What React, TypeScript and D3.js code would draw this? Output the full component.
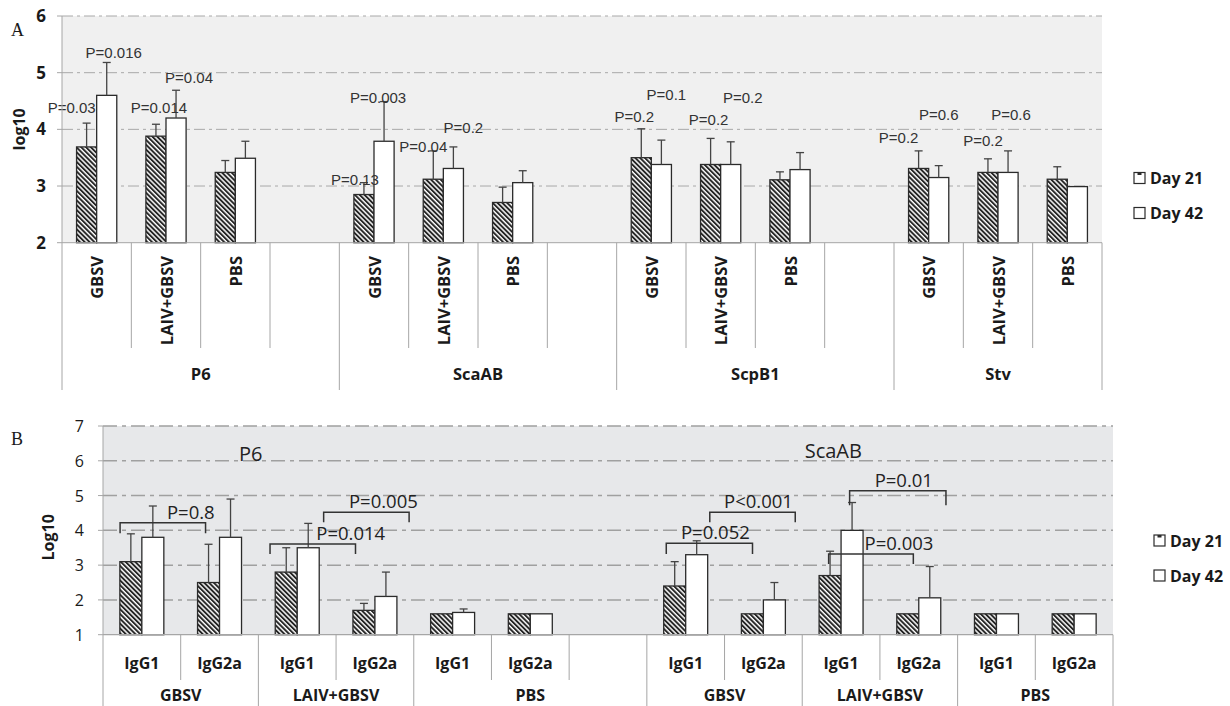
import { useEffect, useRef } from 'react';
import * as d3 from 'd3';

// ---- panel A: antibody titres per antigen / treatment
const groupsA = ['P6', 'ScaAB', 'ScpB1', 'Stv'];
const treatmentsA = ['GBSV', 'LAIV+GBSV', 'PBS'];
const day21A = [
  [3.69, 3.88, 3.24],
  [2.85, 3.12, 2.71],
  [3.5, 3.38, 3.11],
  [3.31, 3.24, 3.12]
];
const day21ErrA = [
  [0.42, 0.21, 0.21],
  [0.21, 0.5, 0.27],
  [0.51, 0.46, 0.14],
  [0.31, 0.24, 0.22]
];
const day42A = [
  [4.6, 4.2, 3.49],
  [3.79, 3.31, 3.06],
  [3.38, 3.38, 3.29],
  [3.15, 3.24, 2.99]
];
const day42ErrA = [
  [0.58, 0.49, 0.3],
  [0.7, 0.38, 0.21],
  [0.43, 0.4, 0.3],
  [0.21, 0.38, 0]
];
const ticksA = [2, 3, 4, 5, 6];
// p-value labels: group, treatment, series (0 = day 21, 1 = day 42), height in log10
const pLabelsA = [
  { g: 0, t: 0, s: 0, at: 4.39, dx: -15, text: 'P=0.03' },
  { g: 0, t: 0, s: 1, at: 5.35, dx: 7, text: 'P=0.016' },
  { g: 0, t: 1, s: 0, at: 4.39, dx: 3, text: 'P=0.014' },
  { g: 0, t: 1, s: 1, at: 4.92, dx: 13, text: 'P=0.04' },
  { g: 1, t: 0, s: 0, at: 3.12, dx: -9, text: 'P=0.13' },
  { g: 1, t: 0, s: 1, at: 4.57, dx: -6, text: 'P=0.003' },
  { g: 1, t: 1, s: 0, at: 3.69, dx: -10, text: 'P=0.04' },
  { g: 1, t: 1, s: 1, at: 4.04, dx: 10, text: 'P=0.2' },
  { g: 2, t: 0, s: 0, at: 4.22, dx: -7, text: 'P=0.2' },
  { g: 2, t: 0, s: 1, at: 4.61, dx: 5, text: 'P=0.1' },
  { g: 2, t: 1, s: 0, at: 4.17, dx: -2, text: 'P=0.2' },
  { g: 2, t: 1, s: 1, at: 4.56, dx: 12, text: 'P=0.2' },
  { g: 3, t: 0, s: 0, at: 3.85, dx: -20, text: 'P=0.2' },
  { g: 3, t: 0, s: 1, at: 4.27, dx: 0, text: 'P=0.6' },
  { g: 3, t: 1, s: 0, at: 3.81, dx: -5, text: 'P=0.2' },
  { g: 3, t: 1, s: 1, at: 4.27, dx: 3, text: 'P=0.6' }
];

// ---- panel B: IgG1 / IgG2a per antigen / treatment
const antigensB = ['P6', 'ScaAB'];
const treatmentsB = ['GBSV', 'LAIV+GBSV', 'PBS'];
const isotypesB = ['IgG1', 'IgG2a'];
// order: GBSV IgG1, GBSV IgG2a, LAIV IgG1, LAIV IgG2a, PBS IgG1, PBS IgG2a
const day21B = [
  [3.1, 2.5, 2.8, 1.7, 1.6, 1.6],
  [2.4, 1.6, 2.7, 1.6, 1.6, 1.6]
];
const day21ErrB = [
  [0.8, 1.1, 0.7, 0.2, 0, 0],
  [0.7, 0, 0.7, 0, 0, 0]
];
const day42B = [
  [3.8, 3.8, 3.5, 2.1, 1.64, 1.6],
  [3.3, 2.0, 4.0, 2.06, 1.6, 1.6]
];
const day42ErrB = [
  [0.9, 1.1, 0.7, 0.7, 0.1, 0],
  [0.4, 0.5, 0.8, 0.9, 0, 0]
];
const ticksB = [1, 2, 3, 4, 5, 6, 7];
// brackets: antigen, from/to = [treatment, isotype, fraction of slot]
const bracketsB = [
  { a: 0, from: [0, 0, 0.22], to: [0, 1, 0.32], at: 4.22, leg: 0.3, dx: 28, text: 'P=0.8' },
  { a: 0, from: [1, 0, 0.15], to: [1, 1, 0.25], at: 3.61, leg: 0.29, dx: 38, text: 'P=0.014' },
  { a: 0, from: [1, 0, 0.84], to: [1, 1, 0.94], at: 4.52, leg: 0.29, dx: 17, text: 'P=0.005' },
  { a: 1, from: [0, 0, 0.25], to: [0, 1, 0.36], at: 3.63, leg: 0.31, dx: 6, text: 'P=0.052' },
  { a: 1, from: [0, 0, 0.81], to: [0, 1, 0.91], at: 4.52, leg: 0.29, dx: 6, text: 'P<0.001' },
  { a: 1, from: [1, 0, 0.61], to: [1, 1, 0.85], at: 5.14, leg: 0.42, dx: 6, text: 'P=0.01' },
  { a: 1, from: [1, 0, 0.34], to: [1, 1, 0.43], at: 3.32, leg: 0.29, dx: 28, text: 'P=0.003' }
];
const panelTitlesB = [
  { a: 0, t: 0, i: 1, f: 0.9, at: 6.2 },
  { a: 1, t: 1, i: 0, f: 0.4, at: 6.28 }
];
const seriesNames = ['Day 21', 'Day 42'];

const SANS = '"Open Sans", "Noto Sans", sans-serif';
const ARIAL = '"Liberation Sans", Arial, sans-serif';
const SERIF = '"Liberation Serif", "Times New Roman", serif';
const AXIS = '#a6a6a6';
const INK = '#1a1a1a';

type Sel = d3.Selection<SVGGElement, unknown, null, undefined>;

const drawBar = (g: Sel, x: number, w: number, y0: number, y1: number, hatched: boolean) => {
  g.append('rect')
    .attr('x', x)
    .attr('y', y1)
    .attr('width', w)
    .attr('height', y0 - y1)
    .attr('fill', hatched ? 'url(#hatch)' : '#fff')
    .attr('stroke', '#2b2b2b')
    .attr('stroke-width', 1.3);
};

const drawErr = (g: Sel, cx: number, yTop: number, yEnd: number) => {
  g.append('line')
    .attr('x1', cx)
    .attr('x2', cx)
    .attr('y1', yTop)
    .attr('y2', yEnd)
    .attr('stroke', '#444')
    .attr('stroke-width', 1.3);
  g.append('line')
    .attr('x1', cx - 4)
    .attr('x2', cx + 4)
    .attr('y1', yEnd)
    .attr('y2', yEnd)
    .attr('stroke', '#444')
    .attr('stroke-width', 1.3);
};

const drawLegend = (g: Sel, x: number, y: number, size: number) => {
  seriesNames.forEach((name, i) => {
    const yy = y + i * 35;
    g.append('rect')
      .attr('x', x)
      .attr('y', yy - size / 2)
      .attr('width', size)
      .attr('height', size)
      .attr('fill', '#fff')
      .attr('stroke', '#2b2b2b')
      .attr('stroke-width', 1.2);
    if (i === 0) {
      g.append('rect')
        .attr('x', x + size / 2 - 2)
        .attr('y', yy - size / 2)
        .attr('width', 4)
        .attr('height', 2.5)
        .attr('fill', '#2b2b2b');
    }
    g.append('text')
      .attr('x', x + size + 5)
      .attr('y', yy + 6)
      .attr('font-family', SANS)
      .attr('font-weight', 700)
      .attr('font-size', 16)
      .attr('fill', INK)
      .text(name);
  });
};

const drawPanelA = (root: Sel) => {
  const g = root.append('g');
  const left = 62;
  const right = 1102;
  const top = 16;
  const bottom = 242.7;

  const slotKeys = groupsA.flatMap((grp, gi) => {
    const keys = treatmentsA.map((t) => `${grp}|${t}`);
    return gi < groupsA.length - 1 ? [...keys, `${grp}|`] : keys;
  });
  const x = d3.scaleBand().domain(slotKeys).range([left, right]).padding(0);
  const y = d3.scaleLinear().domain([2, 6]).range([bottom, top]);
  const bw = x.bandwidth() * 0.29;

  g.append('rect')
    .attr('x', left)
    .attr('y', top)
    .attr('width', right - left)
    .attr('height', bottom - top)
    .attr('fill', '#f0f0f0');

  g.selectAll('line.grid')
    .data(ticksA.slice(1))
    .join('line')
    .attr('x1', left)
    .attr('x2', right)
    .attr('y1', (d) => y(d))
    .attr('y2', (d) => y(d))
    .attr('stroke', '#a8a8a8')
    .attr('stroke-width', 1)
    .attr('stroke-dasharray', '11 4 3 4');

  g.selectAll('text.tick')
    .data(ticksA)
    .join('text')
    .attr('x', 46)
    .attr('y', (d) => y(d) + 6)
    .attr('text-anchor', 'end')
    .attr('font-family', SANS)
    .attr('font-weight', 700)
    .attr('font-size', 17)
    .attr('fill', INK)
    .text((d) => d);

  g.selectAll('line.tk')
    .data(ticksA)
    .join('line')
    .attr('x1', left - 5)
    .attr('x2', left)
    .attr('y1', (d) => y(d))
    .attr('y2', (d) => y(d))
    .attr('stroke', AXIS);

  g.append('text')
    .attr('transform', `translate(25, ${(top + bottom) / 2}) rotate(-90)`)
    .attr('text-anchor', 'middle')
    .attr('font-family', SANS)
    .attr('font-weight', 700)
    .attr('font-size', 16)
    .attr('fill', INK)
    .text('log10');

  g.append('text')
    .attr('x', 11)
    .attr('y', 36)
    .attr('font-family', SERIF)
    .attr('font-size', 18)
    .attr('fill', INK)
    .text('A');

  // bars
  groupsA.forEach((grp, gi) => {
    treatmentsA.forEach((t, ti) => {
      const cx = (x(`${grp}|${t}`) as number) + x.bandwidth() / 2;
      const vals = [day21A[gi][ti], day42A[gi][ti]];
      const errs = [day21ErrA[gi][ti], day42ErrA[gi][ti]];
      vals.forEach((v, s) => {
        const bx = cx - bw + s * bw;
        drawBar(g, bx, bw, y(2), y(v), s === 0);
        if (errs[s] > 0) drawErr(g, bx + bw / 2, y(v), y(v + errs[s]));
      });
    });
  });

  // p-value labels
  pLabelsA.forEach((p) => {
    const cx = (x(`${groupsA[p.g]}|${treatmentsA[p.t]}`) as number) + x.bandwidth() / 2;
    const bcx = cx - bw / 2 + p.s * bw;
    g.append('text')
      .attr('x', bcx + p.dx)
      .attr('y', y(p.at) + 5.5)
      .attr('text-anchor', 'middle')
      .attr('font-family', ARIAL)
      .attr('font-size', 15)
      .attr('fill', '#333')
      .text(p.text);
  });

  // axes
  g.append('line')
    .attr('x1', left)
    .attr('x2', left)
    .attr('y1', top)
    .attr('y2', bottom)
    .attr('stroke', AXIS);
  g.append('line')
    .attr('x1', left)
    .attr('x2', right)
    .attr('y1', bottom)
    .attr('y2', bottom)
    .attr('stroke', AXIS);

  // multi-level category axis
  const inner = 348;
  const outer = 390;
  slotKeys.forEach((k, i) => {
    const x0 = x(k) as number;
    const isGroupStart = i === 0 || k.split('|')[0] !== slotKeys[i - 1].split('|')[0];
    g.append('line')
      .attr('x1', x0)
      .attr('x2', x0)
      .attr('y1', bottom)
      .attr('y2', isGroupStart ? outer : inner)
      .attr('stroke', AXIS);
  });
  g.append('line')
    .attr('x1', right)
    .attr('x2', right)
    .attr('y1', bottom)
    .attr('y2', outer)
    .attr('stroke', AXIS);

  slotKeys.forEach((k) => {
    const label = k.split('|')[1];
    if (!label) return;
    const cx = (x(k) as number) + x.bandwidth() / 2;
    g.append('text')
      .attr('transform', `translate(${cx + 6.5}, 256) rotate(-90)`)
      .attr('text-anchor', 'end')
      .attr('font-family', SANS)
      .attr('font-weight', 700)
      .attr('font-size', 16.5)
      .attr('fill', INK)
      .text(label);
  });

  groupsA.forEach((grp) => {
    const keys = slotKeys.filter((k) => k.startsWith(`${grp}|`));
    const x0 = x(keys[0]) as number;
    const x1 = (x(keys[keys.length - 1]) as number) + x.bandwidth();
    g.append('text')
      .attr('x', (x0 + x1) / 2)
      .attr('y', 379.5)
      .attr('text-anchor', 'middle')
      .attr('font-family', SANS)
      .attr('font-weight', 700)
      .attr('font-size', 16.5)
      .attr('fill', INK)
      .text(grp);
  });

  drawLegend(g, 1134, 178, 11);
};

const drawPanelB = (root: Sel) => {
  const g = root.append('g');
  const left = 103;
  const right = 1113;
  const top = 426;
  const bottom = 634.7;

  const slotKeys: string[] = [];
  antigensB.forEach((a, ai) => {
    treatmentsB.forEach((t) => {
      isotypesB.forEach((iso) => slotKeys.push(`${a}|${t}|${iso}`));
    });
    if (ai < antigensB.length - 1) slotKeys.push(`${a}|PBS|`);
  });
  const x = d3.scaleBand().domain(slotKeys).range([left, right]).padding(0);
  const y = d3.scaleLinear().domain([1, 7]).range([bottom, top]);
  const bw = x.bandwidth() * 0.283;
  const slotX = (a: number, t: number, i: number, f: number) =>
    (x(`${antigensB[a]}|${treatmentsB[t]}|${isotypesB[i]}`) as number) + f * x.bandwidth();

  g.append('rect')
    .attr('x', left)
    .attr('y', top)
    .attr('width', right - left)
    .attr('height', bottom - top)
    .attr('fill', '#e7e8ea');

  g.selectAll('line.grid')
    .data(ticksB.slice(1))
    .join('line')
    .attr('x1', left)
    .attr('x2', right)
    .attr('y1', (d) => y(d))
    .attr('y2', (d) => y(d))
    .attr('stroke', '#a0a0a0')
    .attr('stroke-width', 1.5)
    .attr('stroke-dasharray', '14 5 4 5');

  g.selectAll('text.tick')
    .data(ticksB)
    .join('text')
    .attr('x', 84)
    .attr('y', (d) => y(d) + 6)
    .attr('text-anchor', 'end')
    .attr('font-family', SANS)
    .attr('font-size', 16)
    .attr('fill', INK)
    .text((d) => d);

  g.selectAll('line.tk')
    .data(ticksB)
    .join('line')
    .attr('x1', left - 5)
    .attr('x2', left)
    .attr('y1', (d) => y(d))
    .attr('y2', (d) => y(d))
    .attr('stroke', AXIS);

  g.append('text')
    .attr('transform', `translate(54, ${(top + bottom) / 2 + 7}) rotate(-90)`)
    .attr('text-anchor', 'middle')
    .attr('font-family', SANS)
    .attr('font-weight', 700)
    .attr('font-size', 16)
    .attr('fill', INK)
    .text('Log10');

  g.append('text')
    .attr('x', 11)
    .attr('y', 445)
    .attr('font-family', SERIF)
    .attr('font-size', 18)
    .attr('fill', INK)
    .text('B');

  panelTitlesB.forEach((p) => {
    g.append('text')
      .attr('x', slotX(p.a, p.t, p.i, p.f))
      .attr('y', y(p.at) + 7)
      .attr('text-anchor', 'middle')
      .attr('font-family', SANS)
      .attr('font-size', 20)
      .attr('fill', '#222')
      .text(antigensB[p.a]);
  });

  antigensB.forEach((a, ai) => {
    treatmentsB.forEach((t, ti) => {
      isotypesB.forEach((iso, ii) => {
        const k = ti * isotypesB.length + ii;
        const cx = (x(`${a}|${t}|${iso}`) as number) + x.bandwidth() / 2;
        const vals = [day21B[ai][k], day42B[ai][k]];
        const errs = [day21ErrB[ai][k], day42ErrB[ai][k]];
        vals.forEach((v, s) => {
          const bx = cx - bw + s * bw;
          drawBar(g, bx, bw, y(1), y(v), s === 0);
          if (errs[s] > 0) drawErr(g, bx + bw / 2, y(v), y(v + errs[s]));
        });
      });
    });
  });

  bracketsB.forEach((b) => {
    const x0 = slotX(b.a, b.from[0], b.from[1], b.from[2]);
    const x1 = slotX(b.a, b.to[0], b.to[1], b.to[2]);
    const yl = y(b.at);
    const yb = y(b.at - b.leg);
    g.append('path')
      .attr('d', `M${x0},${yb}V${yl}H${x1}V${yb}`)
      .attr('fill', 'none')
      .attr('stroke', '#333')
      .attr('stroke-width', 1.5);
    g.append('text')
      .attr('x', (x0 + x1) / 2 + b.dx)
      .attr('y', yl - 4)
      .attr('text-anchor', 'middle')
      .attr('font-family', SANS)
      .attr('font-size', 18.5)
      .attr('fill', '#222')
      .text(b.text);
  });

  g.append('line')
    .attr('x1', left)
    .attr('x2', left)
    .attr('y1', top)
    .attr('y2', bottom)
    .attr('stroke', AXIS);
  g.append('line')
    .attr('x1', left)
    .attr('x2', right)
    .attr('y1', bottom)
    .attr('y2', bottom)
    .attr('stroke', AXIS)
    .attr('stroke-width', 1.3);

  // category axis, two levels
  const inner = 680;
  const outer = 706;
  const groupOf = (k: string) => k.split('|').slice(0, 2).join('|');
  slotKeys.forEach((k, i) => {
    const x0 = x(k) as number;
    const isGroupStart = i === 0 || groupOf(k) !== groupOf(slotKeys[i - 1]);
    g.append('line')
      .attr('x1', x0)
      .attr('x2', x0)
      .attr('y1', bottom)
      .attr('y2', isGroupStart ? outer : inner)
      .attr('stroke', AXIS);
    const iso = k.split('|')[2];
    if (iso) {
      g.append('text')
        .attr('x', x0 + x.bandwidth() / 2)
        .attr('y', 669)
        .attr('text-anchor', 'middle')
        .attr('font-family', SANS)
        .attr('font-weight', 700)
        .attr('font-size', 16)
        .attr('fill', INK)
        .text(iso);
    }
  });
  g.append('line')
    .attr('x1', right)
    .attr('x2', right)
    .attr('y1', bottom)
    .attr('y2', outer)
    .attr('stroke', AXIS);

  const groups = Array.from(new Set(slotKeys.map(groupOf)));
  groups.forEach((gr) => {
    const keys = slotKeys.filter((k) => groupOf(k) === gr);
    const x0 = x(keys[0]) as number;
    const x1 = (x(keys[keys.length - 1]) as number) + x.bandwidth();
    g.append('text')
      .attr('x', (x0 + x1) / 2)
      .attr('y', 701)
      .attr('text-anchor', 'middle')
      .attr('font-family', SANS)
      .attr('font-weight', 700)
      .attr('font-size', 16)
      .attr('fill', INK)
      .text(gr.split('|')[1]);
  });

  drawLegend(g, 1154, 540.5, 11);
};

export default function App() {
  const svgRef = useRef<SVGSVGElement>(null);

  useEffect(() => {
    if (!svgRef.current) return;
    const svg = d3.select(svgRef.current);
    svg.selectAll('*').remove();

    const defs = svg.append('defs');
    const pattern = defs
      .append('pattern')
      .attr('id', 'hatch')
      .attr('patternUnits', 'userSpaceOnUse')
      .attr('width', 3.4)
      .attr('height', 3.4)
      .attr('patternTransform', 'rotate(-45)');
    pattern.append('rect').attr('width', 3.4).attr('height', 3.4).attr('fill', '#fff');
    pattern
      .append('line')
      .attr('x1', 1)
      .attr('x2', 1)
      .attr('y1', 0)
      .attr('y2', 3.4)
      .attr('stroke', '#1e1e1e')
      .attr('stroke-width', 1.9);

    const root = svg.append('g') as unknown as Sel;
    drawPanelA(root);
    drawPanelB(root);
  }, []);

  return (
    <div style={{ position: 'absolute', left: 0, top: 0, width: 1230, height: 706, background: '#fff' }}>
      <svg ref={svgRef} width={1230} height={706} style={{ display: 'block' }} />
    </div>
  );
}
